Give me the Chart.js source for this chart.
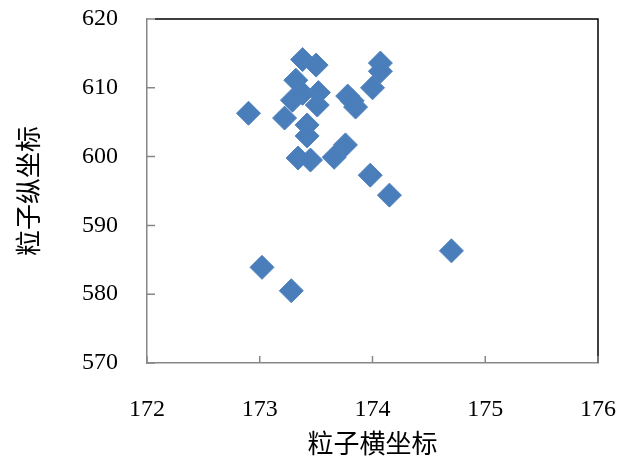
<!DOCTYPE html>
<html>
<head>
<meta charset="utf-8">
<script src="https://cdn.jsdelivr.net/npm/chart.js@4"></script>
<style>
  html, body { margin: 0; padding: 0; background: #fff; }
  #wrap { width: 619px; height: 456px; }
</style>
</head>
<body>
<div id="wrap"><canvas id="scatterChart"></canvas></div>
<script>
// particle positions
const xValues = [172.90, 173.02, 173.28, 174.70, 174.15, 173.98, 173.38, 173.50, 173.32, 173.29,
  173.22, 173.52, 173.51, 173.42, 173.42, 173.34, 173.45, 173.66, 173.76, 173.78,
  173.85, 174.00, 174.07, 174.07, 173.38, 173.82];
const yValues = [606.3, 583.9, 580.5, 586.3, 594.4, 597.3, 614.1, 613.3, 611.1, 608.2,
  605.6, 609.3, 607.5, 604.6, 603.0, 599.8, 599.5, 599.9, 601.7, 608.8,
  607.2, 610.0, 613.6, 612.4, 609.2, 608.1];
const xTicks = [172, 173, 174, 175, 176];
const yTicks = [570, 580, 590, 600, 610, 620];
const xTitle = "粒子横坐标";
const yTitle = "粒子纵坐标";

const axisGray = "#878787";
const tickFont = { family: "'Liberation Serif', 'Times New Roman', serif", size: 24, lineHeight: 1 };
const titleFont = { family: "'Noto Sans CJK SC', sans-serif", size: 26, lineHeight: 1 };

// inward ticks plus black top/right frame
const frameTicks = {
  id: "frameTicks",
  afterDraw(chart) {
    const ctx = chart.ctx;
    const a = chart.chartArea;
    const xs = chart.scales.x;
    const ys = chart.scales.y;
    ctx.save();
    ctx.lineWidth = 1.5;
    ctx.strokeStyle = "#000";
    ctx.beginPath();
    ctx.moveTo(a.left + 8, a.top);
    ctx.lineTo(a.right, a.top);
    ctx.lineTo(a.right, a.bottom);
    ctx.stroke();
    ctx.strokeStyle = axisGray;
    ctx.beginPath();
    ctx.moveTo(a.left, a.top);
    ctx.lineTo(a.left + 8, a.top);
    yTicks.forEach(function (v) {
      const py = ys.getPixelForValue(v);
      ctx.moveTo(a.left, py);
      ctx.lineTo(a.left + 8, py);
    });
    xTicks.forEach(function (v) {
      const px = xs.getPixelForValue(v);
      ctx.moveTo(px, a.bottom);
      ctx.lineTo(px, a.bottom - 7);
    });
    ctx.stroke();
    ctx.restore();
  },
};

const points = xValues.map(function (x, i) {
  return { x: x, y: yValues[i] };
});

new Chart(document.getElementById("scatterChart"), {
  type: "scatter",
  data: {
    datasets: [
      {
        label: "particles",
        data: points,
        pointStyle: "rectRot",
        pointRadius: 12,
        pointHoverRadius: 12,
        backgroundColor: "#4a7ebb",
        borderColor: "#4f81bd",
        borderWidth: 1,
      },
    ],
  },
  options: {
    responsive: true,
    maintainAspectRatio: false,
    animation: false,
    layout: { padding: { top: 19, right: 21, left: 0, bottom: 0 } },
    plugins: {
      legend: { display: false },
      tooltip: { enabled: false },
    },
    scales: {
      x: {
        type: "linear",
        min: 172,
        max: 176,
        afterFit: function (scale) {
          scale.height = 93;
          scale.paddingLeft = 0;
          scale.paddingRight = 0;
        },
        afterBuildTicks: function (scale) {
          scale.ticks = xTicks.map(function (v) { return { value: v }; });
        },
        border: { display: true, color: axisGray, width: 1.5 },
        grid: { display: false, drawTicks: false },
        ticks: { color: "#000", font: tickFont, padding: 35, maxRotation: 0 },
        title: { display: true, text: xTitle, color: "#000", font: titleFont, padding: { top: 0, bottom: 0 } },
      },
      y: {
        type: "linear",
        min: 570,
        max: 620,
        afterFit: function (scale) {
          scale.width = 147;
          scale.paddingTop = 0;
          scale.paddingBottom = 0;
        },
        afterBuildTicks: function (scale) {
          scale.ticks = yTicks.map(function (v) { return { value: v }; });
        },
        border: { display: true, color: axisGray, width: 1.5 },
        grid: { display: false, drawTicks: false },
        ticks: { color: "#000", font: tickFont, padding: 29 },
        title: { display: true, text: yTitle, color: "#000", font: titleFont, padding: { top: 15, bottom: 0 } },
      },
    },
  },
  plugins: [frameTicks],
});
</script>
</body>
</html>
